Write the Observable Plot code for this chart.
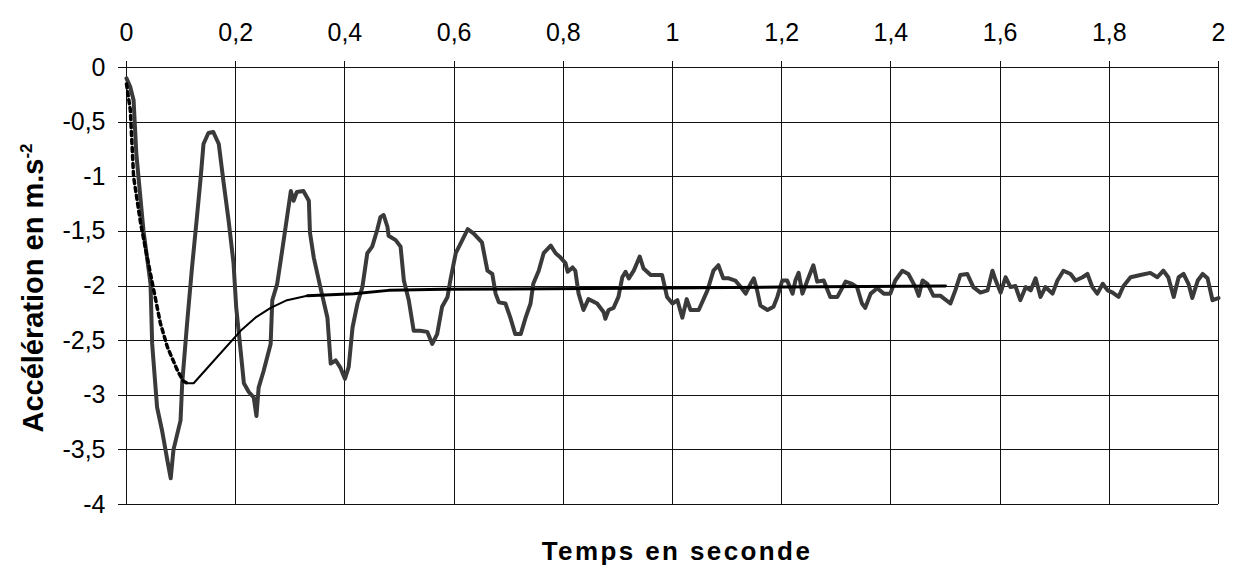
<!DOCTYPE html>
<html>
<head>
<meta charset="utf-8">
<script src="https://cdn.jsdelivr.net/npm/d3@7"></script>
<script src="https://cdn.jsdelivr.net/npm/@observablehq/plot@0.6"></script>
<style>
  html, body { margin: 0; padding: 0; background: #fff; }
  #chart svg { display: block; overflow: visible; }
</style>
</head>
<body>
<div id="chart"></div>
<script>
// Measured acceleration (gray curve)
const tMeas = [0,0.007,0.013,0.018,0.031,0.044,0.047,0.056,0.065,0.075,0.081,0.086,0.099,0.102,0.111,0.120,0.129,0.136,0.141,0.150,0.159,0.169,0.178,0.187,0.196,0.201,0.209,0.215,0.224,0.233,0.238,0.242,0.251,0.264,0.267,0.276,0.285,0.294,0.301,0.306,0.312,0.324,0.334,0.336,0.343,0.355,0.368,0.374,0.383,0.392,0.400,0.407,0.414,0.423,0.432,0.441,0.450,0.459,0.465,0.471,0.478,0.480,0.493,0.502,0.508,0.517,0.526,0.538,0.551,0.560,0.569,0.578,0.588,0.593,0.603,0.615,0.625,0.636,0.651,0.661,0.670,0.676,0.682,0.694,0.703,0.712,0.722,0.731,0.740,0.745,0.755,0.764,0.777,0.786,0.795,0.804,0.808,0.817,0.822,0.828,0.837,0.846,0.862,0.874,0.877,0.883,0.892,0.901,0.908,0.914,0.920,0.929,0.940,0.947,0.960,0.981,0.990,1.000,1.009,1.018,1.026,1.033,1.048,1.064,1.075,1.084,1.093,1.103,1.115,1.125,1.134,1.143,1.149,1.155,1.161,1.174,1.185,1.192,1.201,1.210,1.220,1.225,1.231,1.238,1.247,1.258,1.265,1.277,1.289,1.302,1.317,1.329,1.338,1.347,1.353,1.363,1.375,1.387,1.399,1.408,1.421,1.432,1.445,1.451,1.458,1.467,1.478,1.491,1.509,1.518,1.527,1.540,1.551,1.564,1.577,1.586,1.592,1.601,1.610,1.619,1.628,1.637,1.647,1.656,1.665,1.674,1.683,1.696,1.705,1.716,1.729,1.738,1.751,1.760,1.769,1.778,1.788,1.797,1.806,1.817,1.826,1.839,1.857,1.875,1.888,1.899,1.908,1.918,1.927,1.936,1.945,1.952,1.962,1.971,1.980,1.989,2.000];
const aMeas = [-0.10,-0.18,-0.30,-0.79,-1.49,-1.98,-2.53,-3.11,-3.32,-3.60,-3.76,-3.50,-3.23,-2.89,-2.34,-1.83,-1.37,-1.00,-0.70,-0.60,-0.59,-0.70,-1.06,-1.40,-1.79,-2.20,-2.59,-2.89,-2.97,-3.02,-3.19,-2.93,-2.78,-2.53,-2.13,-1.98,-1.68,-1.37,-1.13,-1.22,-1.14,-1.13,-1.22,-1.51,-1.74,-2.01,-2.29,-2.71,-2.68,-2.75,-2.85,-2.74,-2.38,-2.16,-2.01,-1.70,-1.64,-1.49,-1.37,-1.35,-1.46,-1.54,-1.58,-1.64,-1.95,-2.13,-2.41,-2.41,-2.42,-2.53,-2.44,-2.19,-2.10,-1.95,-1.70,-1.58,-1.48,-1.52,-1.60,-1.86,-1.89,-2.07,-2.15,-2.16,-2.29,-2.44,-2.44,-2.29,-2.16,-1.98,-1.86,-1.70,-1.63,-1.70,-1.74,-1.79,-1.87,-1.83,-1.86,-2.07,-2.22,-2.12,-2.16,-2.24,-2.30,-2.22,-2.20,-2.10,-1.92,-1.87,-1.93,-1.86,-1.73,-1.84,-1.90,-1.90,-2.10,-2.16,-2.13,-2.29,-2.12,-2.22,-2.22,-2.04,-1.86,-1.81,-1.93,-1.93,-1.95,-2.01,-2.07,-1.98,-1.93,-2.04,-2.18,-2.22,-2.19,-2.10,-1.95,-1.95,-2.07,-1.95,-1.88,-2.07,-1.95,-1.81,-1.96,-1.95,-2.10,-2.10,-1.96,-1.98,-2.01,-2.16,-2.20,-2.07,-2.02,-2.07,-2.07,-1.95,-1.86,-1.89,-2.01,-2.09,-1.95,-1.98,-2.09,-2.09,-2.16,-2.04,-1.90,-1.89,-2.01,-2.06,-2.04,-1.86,-1.95,-2.06,-1.92,-2.01,-2.00,-2.13,-2.01,-2.04,-1.93,-2.10,-2.01,-2.07,-1.95,-1.86,-1.89,-1.95,-1.92,-1.89,-2.01,-2.07,-1.98,-2.04,-2.06,-2.10,-2.00,-1.92,-1.90,-1.88,-1.92,-1.86,-1.92,-2.10,-1.92,-1.89,-1.98,-2.11,-1.95,-1.89,-1.93,-2.13,-2.11];

// Model curve: dotted start
const tModelDash = [0,0.007,0.013,0.026,0.038,0.050,0.062,0.075,0.093,0.104,0.111];
const aModelDash = [-0.15,-0.39,-1.00,-1.43,-1.74,-2.04,-2.34,-2.56,-2.77,-2.87,-2.89];
// Model curve: thin solid part
const tModelThin = [0.111,0.123,0.166,0.209,0.236,0.264,0.294,0.331];
const aModelThin = [-2.89,-2.89,-2.65,-2.41,-2.29,-2.20,-2.13,-2.09];
// Model curve: thick solid part
const tModelThick = [0.331,0.374,0.416,0.480,0.580,0.920,1.200,1.500];
const aModelThick = [-2.09,-2.08,-2.07,-2.04,-2.03,-2.02,-2.01,-2.00];

const xTicks = [0,0.2,0.4,0.6,0.8,1,1.2,1.4,1.6,1.8,2];
const yTicks = [0,-0.5,-1,-1.5,-2,-2.5,-3,-3.5,-4];
const xTitle = "Temps en seconde";
const yTitle = "Accélération en m.s";
const yTitleSup = "-2";

const zip = (ts, as) => ts.map((t, i) => ({t, a: as[i]}));
const meas = zip(tMeas, aMeas);
const dash = zip(tModelDash, aModelDash);
const thin = zip(tModelThin, aModelThin);
const thick = zip(tModelThick, aModelThick);
const fmt = d => String(d).replace(".", ",");
const FONT = "'Liberation Sans', Arial, sans-serif";

const plot = Plot.plot({
  width: 1236,
  height: 566,
  marginLeft: 126,
  marginRight: 18,
  marginTop: 67,
  marginBottom: 62,
  style: {fontFamily: FONT, fontSize: "25px", color: "#000", background: "#fff"},
  x: {domain: [0, 2]},
  y: {domain: [-4, 0]},
  marks: [
    Plot.gridX(xTicks, {stroke: "#111", strokeOpacity: 1, strokeWidth: 1}),
    Plot.gridY(yTicks, {stroke: "#111", strokeOpacity: 1, strokeWidth: 1}),
    Plot.axisX(xTicks, {anchor: "top", tickSize: 7, tickPadding: 20, fontSize: 25, tickFormat: fmt, label: null, stroke: "#111"}),
    Plot.axisY(yTicks, {anchor: "left", tickSize: 8, tickPadding: 13, fontSize: 25, tickFormat: fmt, label: null, stroke: "#111"}),
    Plot.line(meas, {x: "t", y: "a", stroke: "#3a3a3a", strokeWidth: 4, curve: "linear", strokeLinejoin: "round"}),
    Plot.line(dash, {x: "t", y: "a", stroke: "#000", strokeWidth: 3.5, strokeDasharray: "4,4"}),
    Plot.line(thin, {x: "t", y: "a", stroke: "#000", strokeWidth: 2}),
    Plot.line(thick, {x: "t", y: "a", stroke: "#000", strokeWidth: 3})
  ]
});

const svg = d3.select(plot);
svg.selectAll("g[aria-label='x-grid'] line, g[aria-label='y-grid'] line, g[aria-label='x-axis tick'] path, g[aria-label='y-axis tick'] path")
  .attr("shape-rendering", "crispEdges");

svg.append("text")
  .attr("x", 677).attr("y", 560)
  .attr("text-anchor", "middle")
  .style("font-family", FONT)
  .style("font-weight", "bold")
  .style("font-size", "26px")
  .style("letter-spacing", "2.4px")
  .attr("fill", "#000")
  .text(xTitle);

const yl = svg.append("text")
  .attr("transform", "translate(43,288) rotate(-90)")
  .attr("text-anchor", "middle")
  .style("font-family", FONT)
  .style("font-weight", "bold")
  .style("font-size", "29px")
  .attr("fill", "#000");
yl.append("tspan").text(yTitle);
yl.append("tspan").attr("dy", "-0.62em").style("font-size", "17px").text(yTitleSup);

document.getElementById("chart").appendChild(plot);
</script>
</body>
</html>
